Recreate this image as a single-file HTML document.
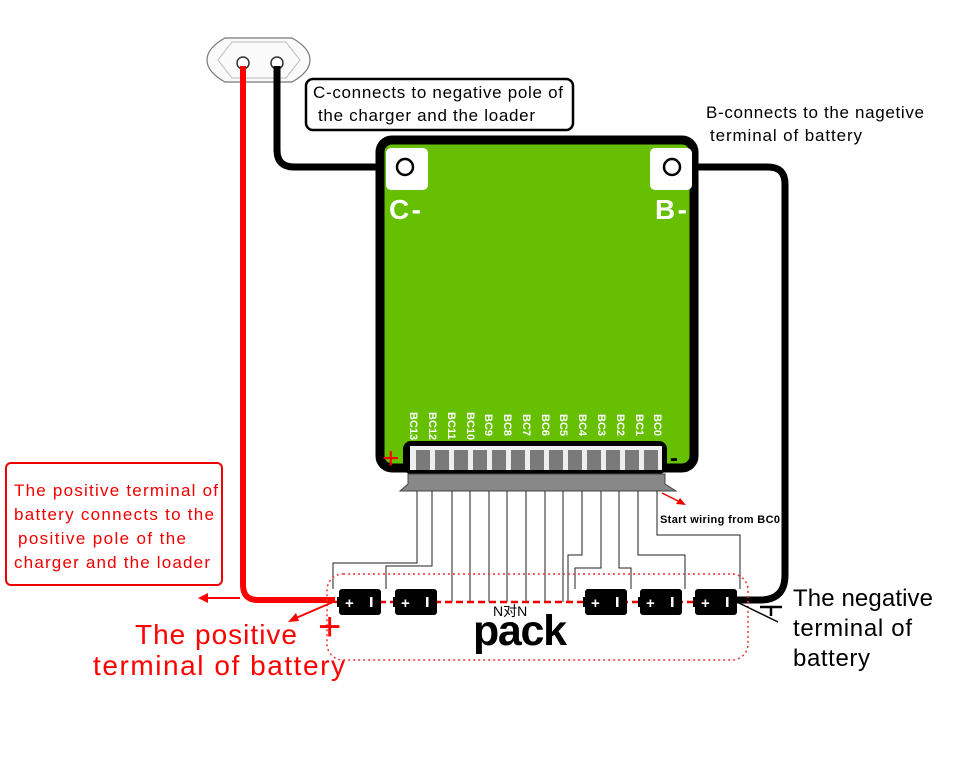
<!DOCTYPE html>
<html><head><meta charset="utf-8"><style>
html,body{margin:0;padding:0;background:#fff;}
svg{display:block;}
text{font-family:"Liberation Sans","Noto Sans CJK SC",sans-serif;}
</style></head><body>
<svg width="960" height="759" viewBox="0 0 960 759" xmlns="http://www.w3.org/2000/svg">
<!-- socket -->
<path d="M225,38 L292,38 Q310,48 310,60 Q310,72 292,82 L225,82 Q207,72 207,60 Q207,48 225,38Z" fill="#fafafa" stroke="#777" stroke-width="1.2"/>
<path d="M232,42 L286,42 L300,60 L286,78 L232,78 L218,60Z" fill="none" stroke="#bbb" stroke-width="1"/>
<circle cx="243" cy="63" r="6" fill="#fff" stroke="#333" stroke-width="1.5"/>
<circle cx="277" cy="63" r="6" fill="#fff" stroke="#333" stroke-width="1.5"/>
<!-- wires -->
<path d="M243,66 L243,585 Q243,600 258,600 L335,600" fill="none" stroke="#f00" stroke-width="6"/>
<path d="M277,66 L277,150 Q277,167 294,167 L405,167" fill="none" stroke="#000" stroke-width="7"/>
<path d="M672,167 L768,167 Q785,167 785,184 L785,575 Q785,600 760,600 L737,600" fill="none" stroke="#000" stroke-width="7"/>
<!-- board -->
<rect x="380" y="140" width="314" height="328" rx="12" fill="#66bf00" stroke="#000" stroke-width="9"/>
<rect x="386" y="148" width="42" height="42" rx="5" fill="#fff"/>
<rect x="650" y="148" width="42" height="42" rx="5" fill="#fff"/>
<circle cx="405" cy="167" r="8" fill="#fff" stroke="#000" stroke-width="2.5"/>
<circle cx="672" cy="167" r="8" fill="#fff" stroke="#000" stroke-width="2.5"/>
<text x="389" y="219" font-size="28" font-weight="bold" fill="#fff" textLength="32">C-</text>
<text x="655" y="219" font-size="28" font-weight="bold" fill="#fff" textLength="32">B-</text>
<g font-size="11" fill="#fff" font-weight="bold">
<text transform="translate(410,412) rotate(90)">BC13</text>
<text transform="translate(429,412) rotate(90)">BC12</text>
<text transform="translate(448,412) rotate(90)">BC11</text>
<text transform="translate(467,412) rotate(90)">BC10</text>
<text transform="translate(485,414) rotate(90)">BC9</text>
<text transform="translate(504,414) rotate(90)">BC8</text>
<text transform="translate(523,414) rotate(90)">BC7</text>
<text transform="translate(542,414) rotate(90)">BC6</text>
<text transform="translate(560,414) rotate(90)">BC5</text>
<text transform="translate(579,414) rotate(90)">BC4</text>
<text transform="translate(598,414) rotate(90)">BC3</text>
<text transform="translate(617,414) rotate(90)">BC2</text>
<text transform="translate(636,414) rotate(90)">BC1</text>
<text transform="translate(654,414) rotate(90)">BC0</text>
</g>
<text x="382" y="468" font-size="30" fill="#f00">+</text>
<text x="670" y="466" font-size="24" fill="#000" font-weight="bold">-</text>
<!-- connector -->
<rect x="403" y="441" width="264" height="33" rx="8" fill="#000"/>
<rect x="410" y="446" width="252" height="24" fill="#eee"/>
<g fill="#7a7a7a">
<rect x="416" y="450" width="14" height="20"/><rect x="435" y="450" width="14" height="20"/><rect x="454" y="450" width="14" height="20"/><rect x="473" y="450" width="14" height="20"/><rect x="492" y="450" width="14" height="20"/><rect x="511" y="450" width="14" height="20"/><rect x="530" y="450" width="14" height="20"/><rect x="549" y="450" width="14" height="20"/><rect x="568" y="450" width="14" height="20"/><rect x="587" y="450" width="14" height="20"/><rect x="606" y="450" width="14" height="20"/><rect x="625" y="450" width="14" height="20"/><rect x="644" y="450" width="14" height="20"/>
</g>
<path d="M408,474 L665,474 L665,484 L676,491 L400,491 L408,484Z" fill="#888" stroke="#444" stroke-width="1"/>
<!-- sense wires -->
<g fill="none" stroke="#222" stroke-width="1">
<path d="M417,491 V563 H333 V589"/>
<path d="M432,491 V566 H386 V589"/>
<path d="M452,491 V602"/><path d="M470,491 V602"/><path d="M489,491 V602"/><path d="M507,491 V602"/><path d="M526,491 V602"/><path d="M545,491 V602"/><path d="M563,491 V602"/>
<path d="M582,491 V555 H568 V602"/>
<path d="M601,491 V568 H575 V589"/>
<path d="M619,491 V568 H631 V589"/>
<path d="M638,491 V555 H685 V589"/>
<path d="M657,491 V535 H740 V589"/>
</g>
<!-- pack -->
<rect x="327" y="574" width="421" height="86" rx="16" fill="none" stroke="#e33" stroke-width="1.5" stroke-dasharray="2,3"/>
<line x1="335" y1="602" x2="737" y2="602" stroke="#e00" stroke-width="2.5" stroke-dasharray="7,4"/>
<g>
<g transform="translate(337,589)"><rect x="2" y="0" width="42" height="26" rx="3" fill="#000"/><rect x="0" y="8" width="4" height="10" fill="#000"/><text x="8" y="19" font-size="15" font-weight="bold" fill="#fff">+</text><rect x="33" y="8" width="2.5" height="10" fill="#fff"/></g>
<g transform="translate(393,589)"><rect x="2" y="0" width="42" height="26" rx="3" fill="#000"/><rect x="0" y="8" width="4" height="10" fill="#000"/><text x="8" y="19" font-size="15" font-weight="bold" fill="#fff">+</text><rect x="33" y="8" width="2.5" height="10" fill="#fff"/></g>
<g transform="translate(583,589)"><rect x="2" y="0" width="42" height="26" rx="3" fill="#000"/><rect x="0" y="8" width="4" height="10" fill="#000"/><text x="8" y="19" font-size="15" font-weight="bold" fill="#fff">+</text><rect x="33" y="8" width="2.5" height="10" fill="#fff"/></g>
<g transform="translate(638,589)"><rect x="2" y="0" width="42" height="26" rx="3" fill="#000"/><rect x="0" y="8" width="4" height="10" fill="#000"/><text x="8" y="19" font-size="15" font-weight="bold" fill="#fff">+</text><rect x="33" y="8" width="2.5" height="10" fill="#fff"/></g>
<g transform="translate(693,589)"><rect x="2" y="0" width="42" height="26" rx="3" fill="#000"/><rect x="0" y="8" width="4" height="10" fill="#000"/><text x="8" y="19" font-size="15" font-weight="bold" fill="#fff">+</text><rect x="33" y="8" width="2.5" height="10" fill="#fff"/></g>
</g>
<text x="493" y="616" font-size="14" fill="#000">N对N</text>
<text x="473" y="645" font-size="43" font-weight="bold" fill="#000" textLength="94">pack</text>
<!-- neg symbol -->
<path d="M737,602 L778,622" stroke="#000" stroke-width="1.5"/>
<path d="M760,607 H782 M771,607 V616" stroke="#000" stroke-width="2.5"/>
<!-- red arrows -->
<path d="M240,598 H205" stroke="#f00" stroke-width="2"/>
<path d="M198,598 L208,593 L208,603Z" fill="#f00"/>
<path d="M333,602 L296,618" stroke="#f00" stroke-width="2"/>
<path d="M288,622 L296,613 L299,621Z" fill="#f00"/>
<path d="M662,493 L680,502" stroke="#e00" stroke-width="1.5"/>
<path d="M686,505 L676,504 L680,498Z" fill="#e00"/>
<text x="318" y="640" font-size="40" fill="#f00">+</text>
<!-- labels -->
<rect x="306" y="79" width="267" height="51" rx="7" fill="#fff" stroke="#000" stroke-width="2.5"/>
<text x="313" y="98" font-size="17" fill="#000" textLength="250">C-connects to negative pole of</text>
<text x="318" y="121" font-size="17" fill="#000" textLength="217">the charger and the loader</text>
<text x="706" y="118" font-size="17" fill="#000" textLength="218">B-connects to the nagetive</text>
<text x="710" y="141" font-size="17" fill="#000" textLength="152">terminal of battery</text>
<rect x="6" y="463" width="216" height="122" rx="5" fill="#fff" stroke="#e00" stroke-width="2"/>
<g font-size="17" fill="#e00">
<text x="14" y="496" textLength="204">The positive terminal of</text>
<text x="14" y="520" textLength="200">battery connects to the</text>
<text x="18" y="544" textLength="168">positive pole of the</text>
<text x="14" y="568" textLength="196">charger and the loader</text>
</g>
<text x="135" y="644" font-size="28" fill="#f00" textLength="162">The positive</text>
<text x="93" y="675" font-size="28" fill="#f00" textLength="252">terminal of battery</text>
<g font-size="24" fill="#000">
<text x="793" y="606" textLength="140">The negative</text>
<text x="793" y="636" textLength="119">terminal of</text>
<text x="793" y="666" textLength="77">battery</text>
</g>
<text x="660" y="523" font-size="11" font-weight="bold" fill="#000" textLength="120">Start wiring from BC0</text>
</svg>
</body></html>
